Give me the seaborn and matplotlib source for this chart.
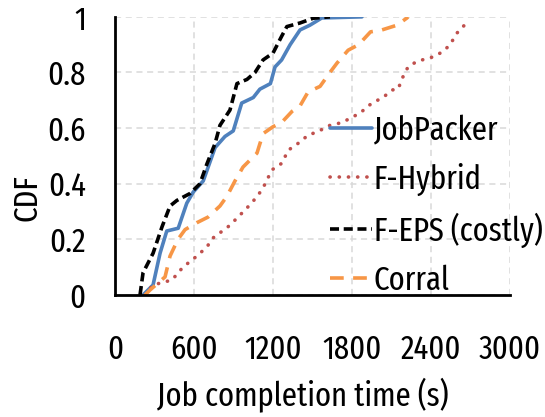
import matplotlib
matplotlib.use("Agg")
import matplotlib.pyplot as plt
import seaborn as sns
import pandas as pd

# Job completion time (s) vs. cumulative fraction of jobs, per scheduler
jobpacker_t = [213, 289, 342, 393, 480, 545, 594, 670, 760, 835, 898, 962, 1050,
               1100, 1180, 1215, 1265, 1330, 1405, 1480, 1570, 1875]
jobpacker_cdf = [0.0, 0.036, 0.15, 0.23, 0.24, 0.33, 0.37, 0.41, 0.53, 0.57, 0.59,
                 0.69, 0.71, 0.74, 0.76, 0.82, 0.845, 0.90, 0.953, 0.97, 0.996, 1.0]

fhybrid_t = [228, 289, 433, 516, 622, 698, 744, 858, 926, 1010, 1078, 1124, 1192,
             1268, 1314, 1405, 1466, 1534, 1632, 1724, 1860, 1951, 2035, 2103,
             2149, 2187, 2225, 2293, 2415, 2490, 2544, 2597, 2673, 2690]
fhybrid_cdf = [0.0, 0.036, 0.054, 0.10, 0.14, 0.173, 0.205, 0.245, 0.276, 0.317,
               0.353, 0.385, 0.45, 0.474, 0.52, 0.55, 0.575, 0.586, 0.61, 0.62,
               0.654, 0.69, 0.71, 0.737, 0.74, 0.785, 0.82, 0.84, 0.856, 0.875,
               0.90, 0.942, 0.98, 0.985]

feps_t = [190, 213, 289, 357, 418, 470, 570, 645, 697, 760, 797, 873, 926, 1002,
          1063, 1124, 1200, 1265, 1305, 1405, 1505, 1632]
feps_cdf = [0.0, 0.08, 0.15, 0.245, 0.32, 0.34, 0.365, 0.40, 0.47, 0.545, 0.61,
            0.665, 0.76, 0.775, 0.80, 0.845, 0.87, 0.93, 0.965, 0.978, 0.995, 1.0]

corral_t = [228, 266, 380, 418, 478, 532, 622, 706, 797, 850, 911, 972, 1078, 1124,
            1200, 1265, 1344, 1405, 1466, 1557, 1632, 1686, 1770, 1850, 1940, 2027,
            2141, 2217, 2225]
corral_cdf = [0.0, 0.018, 0.065, 0.14, 0.20, 0.235, 0.26, 0.28, 0.32, 0.355, 0.41,
              0.46, 0.51, 0.58, 0.605, 0.62, 0.66, 0.68, 0.73, 0.75, 0.80, 0.834,
              0.88, 0.90, 0.946, 0.953, 0.97, 0.996, 1.0]

x_ticks = [0, 600, 1200, 1800, 2400, 3000]
y_ticks = [0, 0.2, 0.4, 0.6, 0.8, 1.0]
y_tick_labels = ["0", "0.2", "0.4", "0.6", "0.8", "1"]

series = [
    ("JobPacker", jobpacker_t, jobpacker_cdf, "#4F81BD", "-"),
    ("F-Hybrid", fhybrid_t, fhybrid_cdf, "#C0504D", (0, (0.05, 2.5))),
    ("F-EPS (costly)", feps_t, feps_cdf, "#000000", (0, (2.5, 1.3))),
    ("Corral", corral_t, corral_cdf, "#F79646", (0, (3.8, 2.6))),
]

sns.set_theme(style="white")
plt.rcParams["font.family"] = ["Fira Sans Extra Condensed", "DejaVu Sans"]
FS = 24

fig = plt.figure(figsize=(5.45, 4.17), dpi=100)
ax = fig.add_axes([0.211, 0.2926, 0.725, 0.667])

for name, t, cdf, color, ls in series:
    df = pd.DataFrame({"t": t, "cdf": cdf})
    sns.lineplot(data=df, x="t", y="cdf", ax=ax, color=color, linestyle=ls,
                 linewidth=2.6, estimator=None, sort=False, label=name,
                 dash_capstyle="round" if name == "F-Hybrid" else "butt")

ax.set_xlim(0, 3000)
ax.set_ylim(0, 1)
ax.set_xticks(x_ticks)
ax.set_yticks(y_ticks)
ax.set_yticklabels(y_tick_labels)
ax.tick_params(axis="both", length=0, labelsize=FS, colors="black")
ax.tick_params(axis="y", pad=21)
ax.tick_params(axis="x", pad=28)

ax.grid(True, linestyle=(0, (4, 3)), color="#d9d9d9", linewidth=1.1)
ax.set_axisbelow(True)
for side in ("top", "right"):
    ax.spines[side].set_visible(False)
for side in ("left", "bottom"):
    ax.spines[side].set_color("black")
    ax.spines[side].set_linewidth(2)

ax.set_xlabel("Job completion time (s)", fontsize=FS, color="black")
ax.set_ylabel("CDF", fontsize=FS, color="black")
ax.xaxis.set_label_coords(0.476, -0.295)
ax.yaxis.set_label_coords(-0.182, 0.349)

leg = ax.legend(loc="center left", bbox_to_anchor=(0.6055, 0.508),
                bbox_transform=fig.transFigure, frameon=False, fontsize=FS,
                handlelength=1.27, handletextpad=0.05, labelspacing=0.5,
                borderpad=0, borderaxespad=0)
for txt in leg.get_texts():
    txt.set_color("black")

fig.savefig("out.png", dpi=100)
